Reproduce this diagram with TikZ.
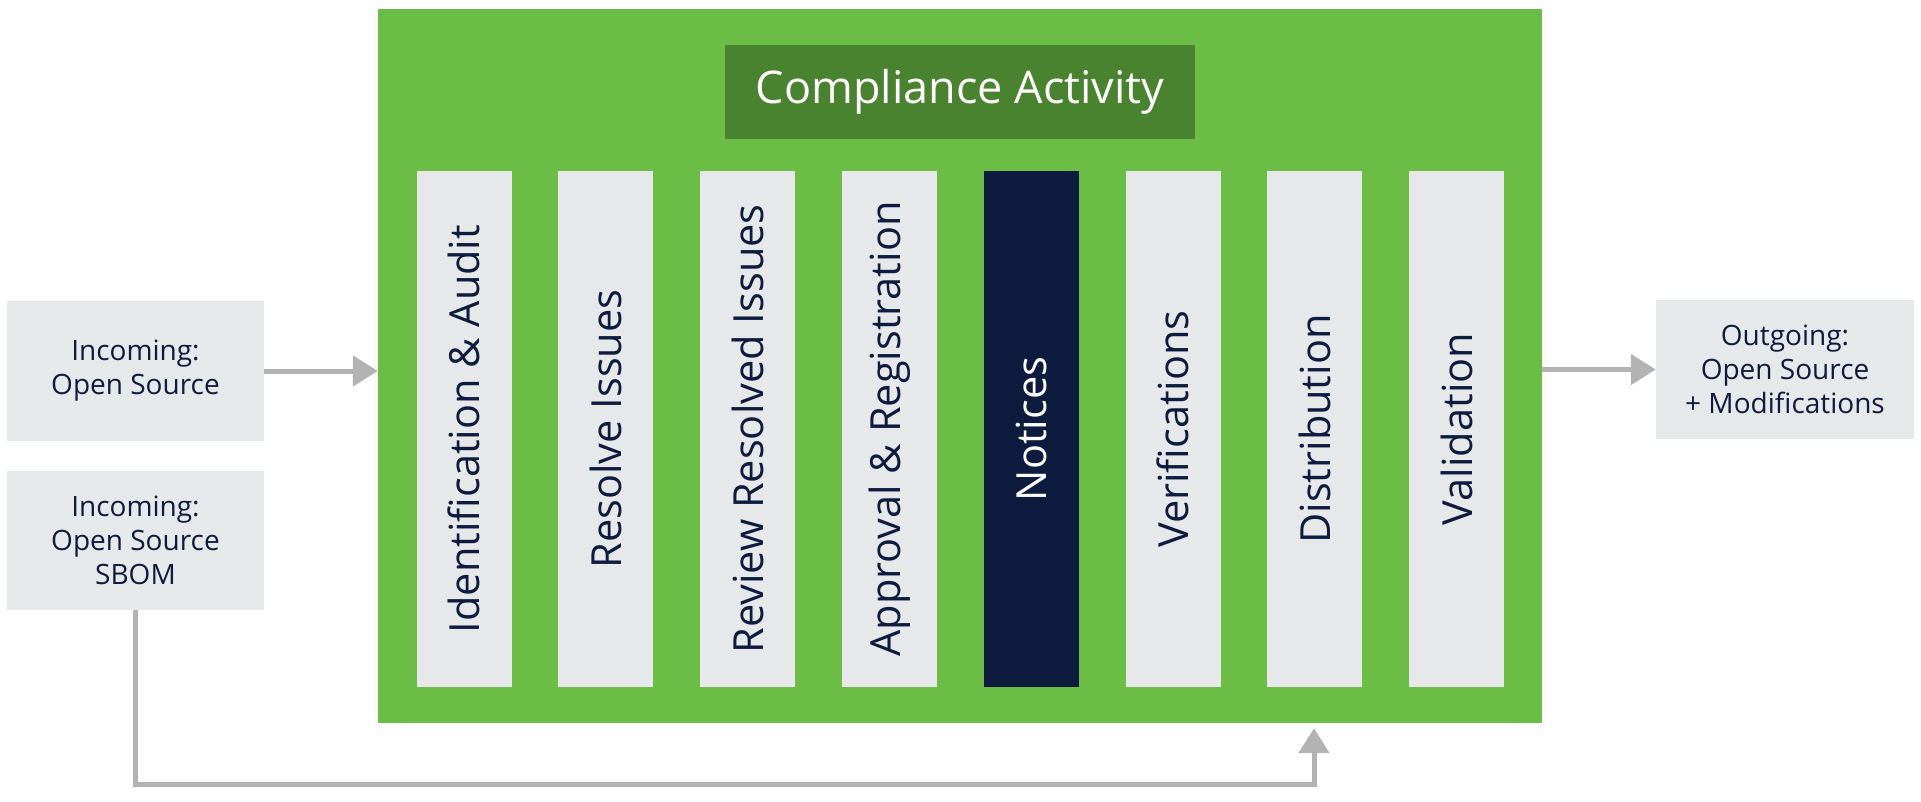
\documentclass[tikz,border=0pt]{standalone}
\usepackage{fontspec}
\setmainfont{Open Sans}
\usetikzlibrary{arrows.meta}
\definecolor{leaf}{HTML}{6CBD45}
\definecolor{moss}{HTML}{4A832F}
\definecolor{paper}{HTML}{E7E8EA}
\definecolor{navy}{HTML}{0D1B3E}
\definecolor{wire}{HTML}{B3B3B3}
\tikzset{
  sidebox/.style={fill=paper, draw=none, text=navy, align=center,
    minimum width=257pt, minimum height=140pt, inner sep=0pt,
    font=\fontsize{28}{34}\selectfont},
  stagebox/.style={fill=paper, draw=none, text=navy, rotate=90,
    minimum width=516pt, minimum height=95pt, inner sep=0pt,
    font=\fontsize{41.5}{48}\selectfont},
  stagehot/.style={stagebox, fill=navy, text=white},
  flow/.style={draw=wire, line width=5pt,
    -{Triangle[length=25pt,width=30pt]}},
}
\begin{document}
\begin{tikzpicture}[x=1pt,y=-1pt]
\useasboundingbox (0,0) rectangle (1921,801);

% frame of the compliance activity
\node[fill=leaf, minimum width=1164pt, minimum height=714pt, inner sep=0pt]
  (frame) at (960,366) {};
\node[fill=moss, text=white, minimum width=470pt, minimum height=94pt,
  inner sep=0pt, font=\fontsize{45}{52}\selectfont] (title) at (960,92)
  {Compliance Activity};

% the eight stages
\node[stagebox] (s1) at (464.0,429) {Identification \& Audit};
\node[stagebox] (s2) at (605.8,429) {Resolve Issues};
\node[stagebox] (s3) at (747.6,429) {Review Resolved Issues};
\node[stagebox] (s4) at (889.4,429) {Approval \& Registration};
\node[stagehot] (s5) at (1031.2,429) {Notices};
\node[stagebox] (s6) at (1173.0,429) {Verifications};
\node[stagebox] (s7) at (1314.8,429) {Distribution};
\node[stagebox] (s8) at (1456.6,429) {Validation};

% inputs and output
\node[sidebox] (in1) at (135.5,371) {Incoming:\\Open Source};
\node[sidebox, minimum height=139pt] (in2) at (135.5,540.5)
  {Incoming:\\Open Source\\SBOM};
\node[sidebox, minimum width=258pt, minimum height=139pt] (out)
  at (1785,369.5) {Outgoing:\\Open Source\\+ Modifications};

% connectors
\draw[flow] (in1.east) -- (in1.east -| frame.west);
\draw[flow] (out.west -| frame.east) -- (out.west);
\coordinate (turn) at (1314,784);
\draw[flow, shorten >=5pt] (in2.south) |- (turn) -- (turn |- frame.south);
\end{tikzpicture}
\end{document}
